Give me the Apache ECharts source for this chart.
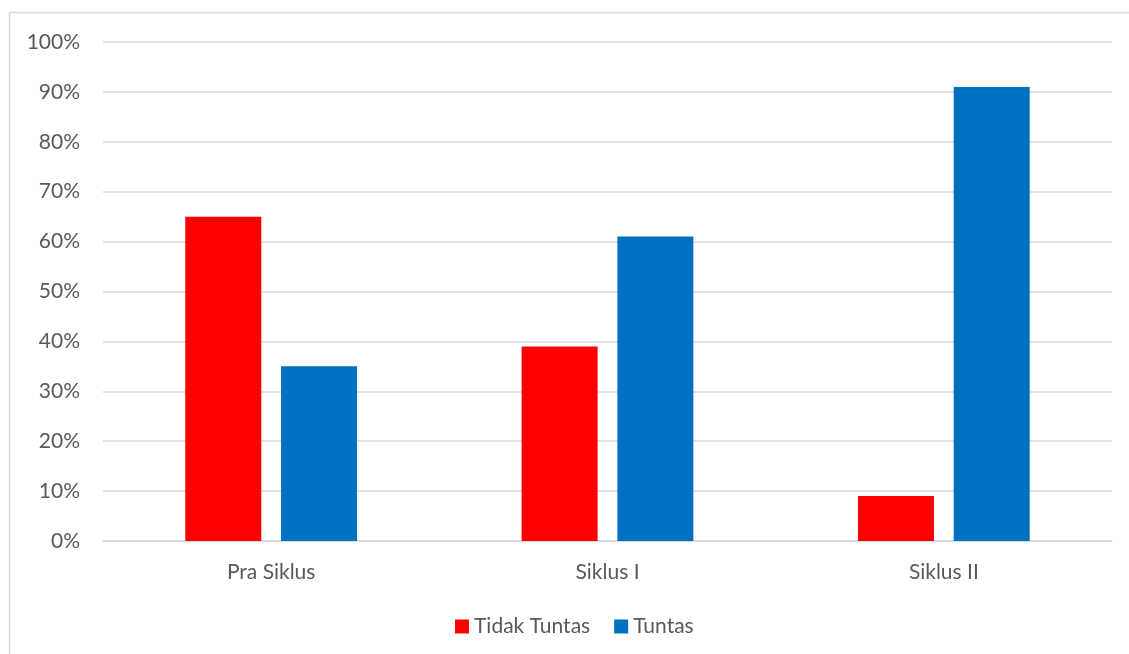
<!DOCTYPE html>
<html>
<head>
<meta charset="utf-8">
<script src="https://cdn.jsdelivr.net/npm/echarts@6/dist/echarts.min.js"></script>
<style>
  html, body { margin: 0; padding: 0; background: #fff; }
  #chart { width: 1129px; height: 654px; }
</style>
</head>
<body>
<div id="chart"></div>
<script>
// Percentage of students by completion status per cycle
const categories = ['Pra Siklus', 'Siklus I', 'Siklus II'];
const tidakTuntas = [65, 39, 9];
const tuntas = [35, 61, 91];
const seriesNames = ['Tidak Tuntas', 'Tuntas'];

const FONT = 'Lato, "Open Sans", sans-serif';
const TEXT = '#595959';
const LINE = '#d9d9d9';

const chart = echarts.init(document.getElementById('chart'));
chart.setOption({
  animation: false,
  textStyle: { fontFamily: FONT },
  graphic: [{
    type: 'rect',
    shape: { x: 9.5, y: 12.5, width: 1200, height: 700 },
    style: { fill: 'none', stroke: LINE, lineWidth: 1.5 },
    silent: true,
    z: -1
  }],
  grid: { left: 103, right: 17, top: 42, bottom: 113, containLabel: false },
  legend: {
    data: seriesNames,
    left: 450,
    top: 611,
    itemWidth: 14,
    itemHeight: 14,
    itemGap: 24,
    icon: 'rect',
    textStyle: { color: TEXT, fontSize: 21, fontFamily: FONT }
  },
  xAxis: {
    type: 'category',
    data: categories,
    axisLine: { lineStyle: { color: LINE, width: 1.5 } },
    axisTick: { show: false },
    axisLabel: { color: TEXT, fontSize: 21, margin: 21, fontFamily: FONT }
  },
  yAxis: {
    type: 'value',
    min: 0,
    max: 100,
    interval: 10,
    axisLine: { show: false },
    axisTick: { show: false },
    splitLine: { lineStyle: { color: LINE, width: 1.5 } },
    axisLabel: { color: TEXT, fontSize: 21, margin: 23, formatter: '{value}%', fontFamily: FONT }
  },
  series: [
    {
      name: seriesNames[0],
      type: 'bar',
      data: tidakTuntas,
      barWidth: 76,
      barGap: '26%',
      itemStyle: { color: '#FF0000' }
    },
    {
      name: seriesNames[1],
      type: 'bar',
      data: tuntas,
      barWidth: 76,
      itemStyle: { color: '#0070C0' }
    }
  ]
});
</script>
</body>
</html>
